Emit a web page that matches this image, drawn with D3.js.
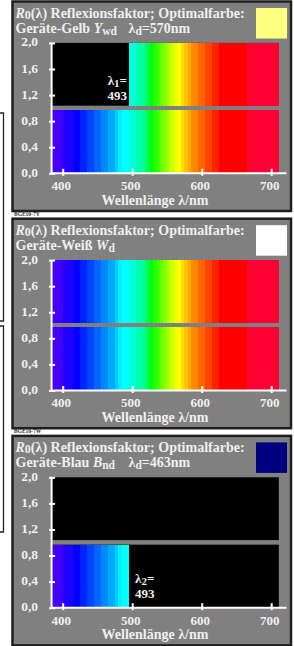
<!DOCTYPE html>
<html><head><meta charset="utf-8">
<script src="https://cdn.jsdelivr.net/npm/d3@7"></script>
<style>
body{margin:0;background:#fff}
svg{display:block}
text{font-family:"Liberation Serif","Times New Roman",serif;font-weight:bold}
</style>
</head><body>
<script>
// ---- data ----
const stripeEdges = [385,400,415,425,435,445,455,465,475,480,485,495,505,515,520,525,530,535,540,545,550,555,560,565,570,575,580,585,595,605,615,625,665,711];
const stripeColors = ["#4400ff","#2200ff","#0000ff","#0022ff","#0044ff","#0066ff","#0088ff","#00aaff","#00ccff","#00eeff","#00ffff",
  "#00ffdd","#00ffaa","#00ff88","#00ff44","#00ff00","#22ff00","#44ff00","#66ff00","#88ff00","#aaff00","#ccff00","#eeff00",
  "#ffff00","#ffdd00","#ffc400","#ffaa00","#ff8800","#ff6600","#ff4400","#ff2200","#ff0000","#ff0033"];
const yTicks = [0, 0.4, 0.8, 1.2, 1.6, 2.0];
const yTickLabels = ["0,0","0,4","0,8","1,2","1,6","2,0"];
const xTicks = [400, 500, 600, 700];
const xTickLabels = ["400","500","600","700"];
const axisExtent = [384, 722];
const bottomBand = [0, 0.967];
const topBand = [1.037, 2.0];
const panelNames = ["Geräte-Gelb ", "Geräte-Weiß ", "Geräte-Blau "];
const panelSymbols = ["Y", "W", "B"];
const panelSubs = ["wd", "d", "nd"];
const dominantWl = ["570nm", null, "463nm"];
const swatchColors = ["#ffff80", "#ffffff", "#000080"];
const codeLabels = ["BGE10-7Y", "BGE10-7W", null];
const topColored = [[495, 711], [385, 711], null];
const bottomColored = [[385, 711], [385, 711], [385, 495]];
const lambdaMarks = [{name:"1", value:"493", band:"top"}, null, {name:"2", value:"493", band:"bottom"}];

// ---- drawing ----
const W = 294, H = 646;
const svg = d3.select("body").append("svg").attr("width", W).attr("height", H);

// partial frames of neighbouring sheet at left edge
svg.append("path").attr("d","M-2,113H3.5V321H-2M-2,326H3.5V532H-2")
  .attr("fill","none").attr("stroke","#222").attr("stroke-width",1.3);

const x = d3.scaleLinear().domain([400, 700]).range([62.7, 271.2]);
const y = d3.scaleLinear().domain([0, 2]).range([171.8, 41.4]);
const txt = "#efefef";
const period = 217.2;

const stripes = stripeColors.map((c, i) => ({a: stripeEdges[i], b: stripeEdges[i+1], c}));

for (let p = 0; p < 3; p++) {
  const g = svg.append("g").attr("transform", `translate(0,${1.5 + p*period})`);
  g.append("rect").attr("x",12.5).attr("y",0).attr("width",278.5).attr("height",209.5)
    .attr("fill","#808080").attr("stroke","#1e1e1e").attr("stroke-width",2.5);
  g.append("rect").attr("x",256).attr("y",6.5).attr("width",31).attr("height",30.5)
    .attr("fill", swatchColors[p]);

  // title line 1
  const t1 = g.append("text").attr("x",15.5).attr("y",16).attr("font-size",14).attr("fill",txt);
  t1.append("tspan").attr("font-style","italic").text("R");
  t1.append("tspan").attr("font-size",12).attr("dy",1.5).text("0");
  t1.append("tspan").attr("dy",-1.5).text("(λ) Reflexionsfaktor; Optimalfarbe:");
  // title line 2
  const t2 = g.append("text").attr("x",15.5).attr("y",31.5).attr("font-size",14).attr("fill",txt);
  t2.append("tspan").text(panelNames[p]);
  t2.append("tspan").attr("font-style","italic").text(panelSymbols[p]);
  t2.append("tspan").attr("font-size",11.5).attr("dy",2).text(panelSubs[p]);
  if (dominantWl[p]) {
    const t3 = g.append("text").attr("x",128.5).attr("y",31.5).attr("font-size",14).attr("fill",txt);
    t3.append("tspan").text("λ");
    t3.append("tspan").attr("font-size",11.5).attr("dy",2).text("d");
    t3.append("tspan").attr("dy",-2).text("=" + dominantWl[p]);
  }

  // bands
  const drawBand = (band, colored) => {
    g.append("rect").attr("x", x(stripeEdges[0])).attr("width", x(stripeEdges[stripeEdges.length-1]) - x(stripeEdges[0]))
      .attr("y", y(band[1])).attr("height", y(band[0]) - y(band[1])).attr("fill","#000");
    if (!colored) return;
    g.selectAll(null).data(stripes.filter(s => s.a >= colored[0] && s.b <= colored[1])).join("rect")
      .attr("x", d => x(d.a)).attr("width", d => x(d.b) - x(d.a) + 0.3)
      .attr("y", y(band[1])).attr("height", y(band[0]) - y(band[1]))
      .attr("fill", d => d.c).attr("shape-rendering","crispEdges");
  };
  drawBand(topBand, topColored[p]);
  drawBand(bottomBand, bottomColored[p]);

  // lambda marks
  const lm = lambdaMarks[p];
  if (lm) {
    const isTop = lm.band === "top";
    const lx = isTop ? 127 : 135;
    const t = g.append("text").attr("x", lx).attr("y", isTop ? 83.5 : 147.5).attr("font-size",13)
      .attr("fill", txt).attr("text-anchor", isTop ? "end" : "start");
    t.append("tspan").text("λ");
    t.append("tspan").attr("font-size",11).attr("dy",1.5).text(lm.name);
    t.append("tspan").attr("dy",-1.5).text("=");
    g.append("text").attr("x", lx).attr("y", isTop ? 98 : 162).attr("font-size",13)
      .attr("fill", txt).attr("text-anchor", isTop ? "end" : "start").text(lm.value);
  }

  // axes
  const xa = g.append("g").attr("transform",`translate(0,${y(0)})`)
    .call(d3.axisBottom(x).tickValues(xTicks).tickFormat((d,i)=>xTickLabels[i]).tickSize(2.5));
  xa.select(".domain").remove();
  xa.selectAll(".tick line").attr("y1",-4.5).attr("y2",2.5).attr("stroke","#fff").attr("stroke-width",2);
  xa.selectAll(".tick text").attr("y",14).attr("dy",0).attr("dx",-2).attr("fill",txt)
    .attr("font-size",13).attr("font-family",null).attr("dominant-baseline","middle");
  const ya = g.append("g").attr("transform",`translate(${x(axisExtent[0])},0)`)
    .call(d3.axisLeft(y).tickValues(yTicks).tickFormat((d,i)=>yTickLabels[i]).tickSize(2.5));
  ya.select(".domain").remove();
  ya.selectAll(".tick line").attr("x1",-2.5).attr("x2",3.5).attr("stroke","#fff").attr("stroke-width",2);
  ya.selectAll(".tick text").attr("x",-13.5).attr("dy",0).attr("fill",txt)
    .attr("font-size",13.5).attr("font-family",null).attr("dominant-baseline","middle");
  g.append("line").attr("x1", x(axisExtent[0])).attr("x2", x(axisExtent[1]))
    .attr("y1", y(0)).attr("y2", y(0)).attr("stroke","#fff").attr("stroke-width",2);
  g.append("line").attr("x1", x(axisExtent[0])).attr("x2", x(axisExtent[0]))
    .attr("y1", y(0)).attr("y2", y(2)).attr("stroke","#fff").attr("stroke-width",2);

  g.append("text").attr("x",155).attr("y",203.5).attr("text-anchor","middle")
    .attr("font-size",14).attr("fill",txt).text("Wellenlänge λ/nm");

  if (codeLabels[p]) {
    g.append("text").attr("x",14).attr("y",214.5).attr("font-size",5.5).attr("fill","#333").text(codeLabels[p]);
  }
}
</script>
</body></html>
